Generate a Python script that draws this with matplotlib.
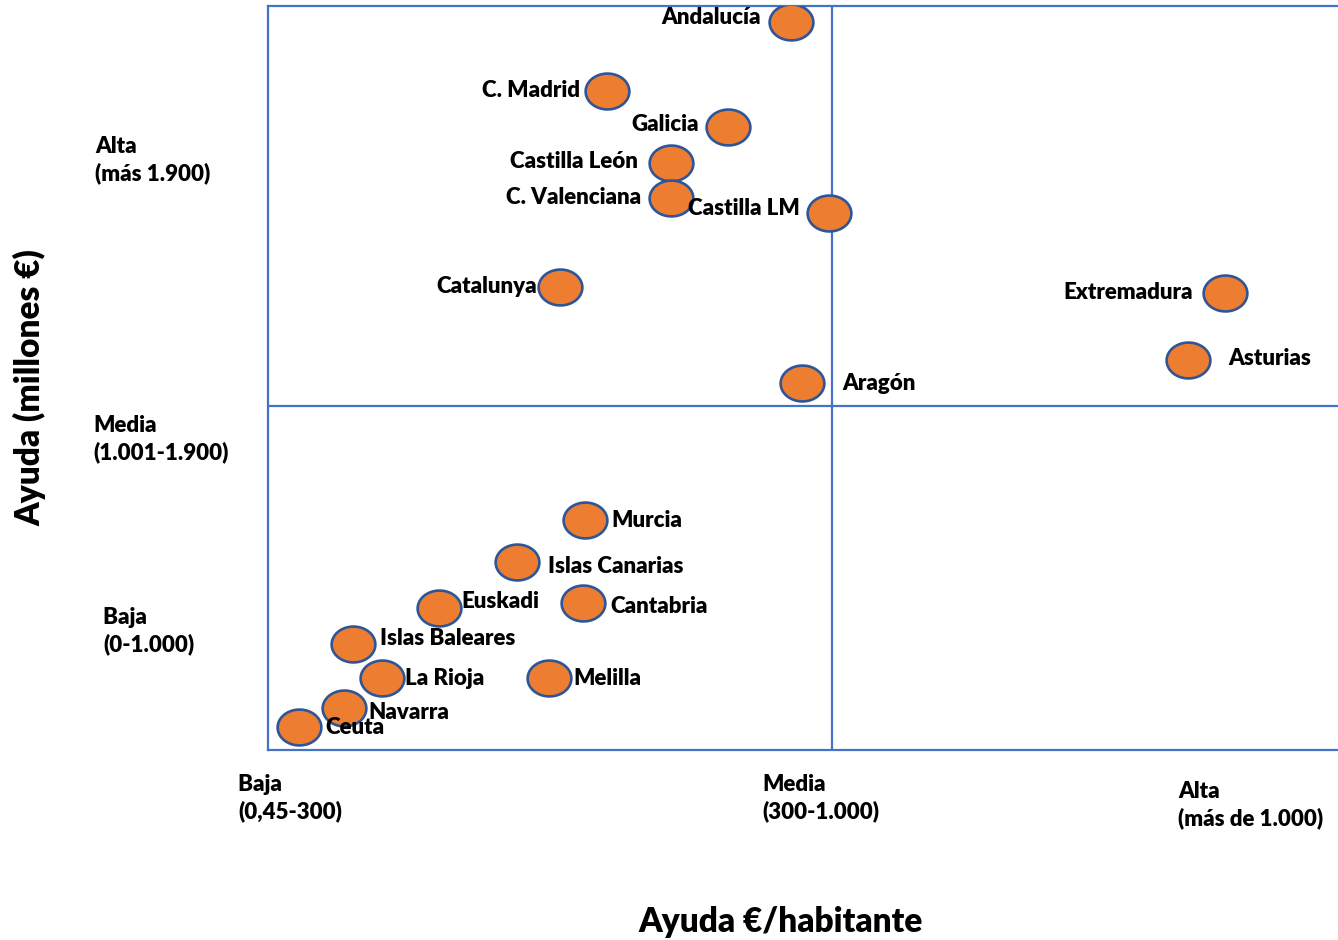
import matplotlib
matplotlib.use("Agg")
import matplotlib.pyplot as plt
import numpy as np
from matplotlib.path import Path

plt.rcParams['font.family'] = ['Lato', 'DejaVu Sans']

# regions placed on a 0-100 scale (per-capita aid across, total aid up)
regiones = ["Andalucía", "C. Madrid", "Galicia", "Castilla León", "C. Valenciana",
            "Castilla LM", "Catalunya", "Extremadura", "Asturias", "Aragón",
            "Murcia", "Islas Canarias", "Euskadi", "Cantabria", "Islas Baleares",
            "La Rioja", "Melilla", "Navarra", "Ceuta"]
ayuda_hab = [48.9, 31.7, 43.0, 37.7, 37.7, 52.4, 27.3, 89.4, 86.0, 49.9,
             29.6, 23.3, 16.0, 29.4, 7.9, 10.7, 26.3, 7.1, 2.9]
ayuda_total = [97.8, 88.6, 83.7, 78.9, 74.2, 72.2, 62.2, 61.4, 52.4, 49.3,
               30.9, 25.3, 19.1, 19.8, 14.2, 9.7, 9.7, 5.6, 3.1]
corte_x = 52.7
corte_y = 46.2

ylabels = ["Alta\n(más 1.900)", "Media\n(1.001-1.900)", "Baja \n(0-1.000)"]
xlabels = ["Baja \n(0,45-300)", "Media\n(300-1.000)", "Alta\n(más de 1.000)"]

# label offsets in pixels from each marker
offsets = [(-30, 5), (-27, 0), (-29, 3), (-34, 1), (-30, 0), (-29, 4), (-23, 1),
           (-32, 1), (40, 2), (40, 0), (27, 0), (31, -5), (22, 6), (28, -4),
           (27, 6), (23, -1), (24, -1), (24, -4), (26, -1)]

azul = '#4472C4'
naranja = '#ED7D31'
peso = 'heavy'

fig = plt.figure(figsize=(13.38, 9.40), dpi=100)
ax = fig.add_axes([268/1338, 1 - 750/940, 1 - 268/1338, 744/940])
ax.set_xlim(0, 100)
ax.set_ylim(0, 100)
ax.set_xticks([])
ax.set_yticks([])
for side in ['top', 'left', 'bottom']:
    ax.spines[side].set_color(azul)
    ax.spines[side].set_linewidth(1.6)
ax.spines['right'].set_visible(False)

ax.axvline(corte_x, color=azul, lw=1.6, zorder=1)
ax.axhline(corte_y, color=azul, lw=1.6, zorder=1)

# ellipse marker, a bit wider than tall
t = np.linspace(0, 2 * np.pi, 60)
elipse = Path(np.column_stack([1.22 * np.cos(t), np.sin(t)]), closed=True)

for i, nombre in enumerate(regiones):
    ax.plot(ayuda_hab[i], ayuda_total[i], marker=elipse, ms=31.5, mfc=naranja,
            mec='#2F5597', mew=1.9, ls='none', zorder=3)
    dx, dy = offsets[i]
    ax.annotate(nombre, (ayuda_hab[i], ayuda_total[i]), xytext=(dx, dy),
                textcoords='offset pixels', ha='left' if dx > 0 else 'right',
                va='center', fontsize=16, fontweight=peso, color='black',
                zorder=4)

ypos = [(95, 160), (93, 439), (103, 631)]
for txt, (px, py) in zip(ylabels, ypos):
    fig.text(px / 1338, 1 - py / 940, txt, ha='left', va='center',
             fontsize=16, fontweight=peso, linespacing=1.3)

xpos = [(238, 798), (762, 798), (1178, 805)]
for txt, (px, py) in zip(xlabels, xpos):
    fig.text(px / 1338, 1 - py / 940, txt, ha='left', va='center',
             fontsize=16, fontweight=peso, linespacing=1.3)

fig.text(30 / 1338, 1 - 388 / 940, "Ayuda (millones €)", rotation=90,
         ha='center', va='center', fontsize=24, fontweight=peso)
fig.text(781 / 1338, 1 - 922 / 940, "Ayuda €/habitante",
         ha='center', va='center', fontsize=24, fontweight=peso)

fig.savefig("out.png", dpi=100)
